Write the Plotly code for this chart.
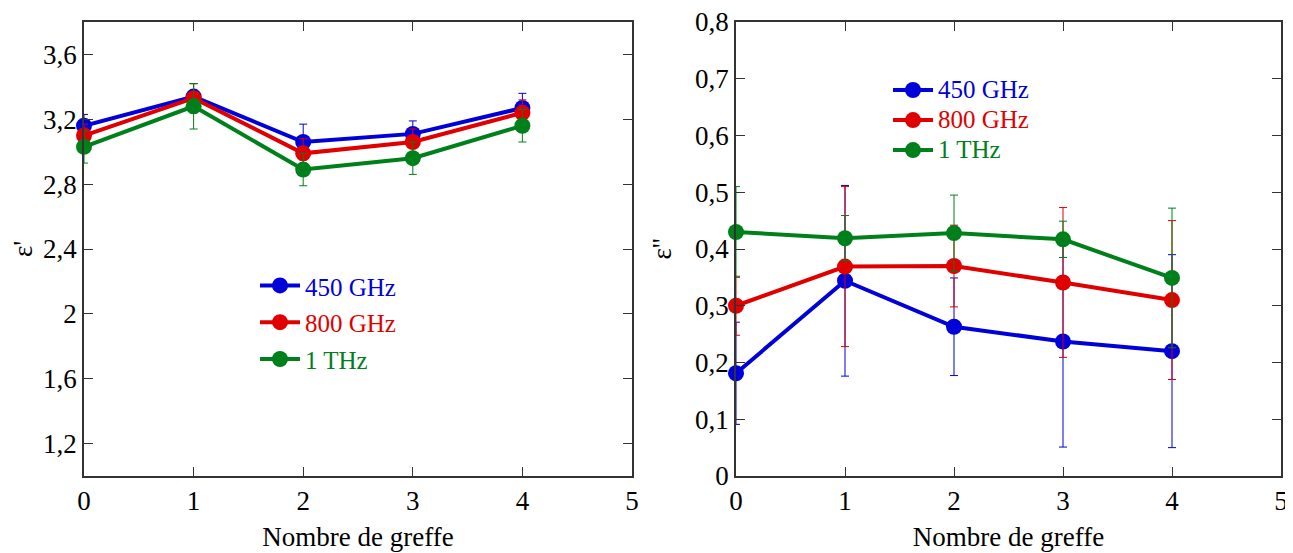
import plotly.graph_objects as go
from plotly.subplots import make_subplots

x = [0, 1, 2, 3, 4]
series_names = ["450 GHz", "800 GHz", "1 THz"]
colors = ["#0000d8", "#e00000", "#00801a"]

# epsilon' (left)
eps1_450 = [3.16, 3.34, 3.06, 3.11, 3.27]
eps1_800 = [3.10, 3.33, 2.99, 3.06, 3.24]
eps1_1t = [3.03, 3.28, 2.89, 2.96, 3.16]
err1_450 = [0.07, 0.08, 0.11, 0.08, 0.09]
err1_800 = [0.07, 0.09, 0.09, 0.08, 0.08]
err1_1t = [0.10, 0.14, 0.10, 0.10, 0.10]

# epsilon'' (right)
eps2_450 = [0.181, 0.344, 0.263, 0.237, 0.220]
eps2_800 = [0.300, 0.369, 0.370, 0.341, 0.310]
eps2_1t = [0.430, 0.419, 0.428, 0.417, 0.349]
err2_450 = [0.09, 0.168, 0.086, 0.186, 0.17]
err2_800 = [0.052, 0.141, 0.072, 0.132, 0.14]
err2_1t = [0.08, 0.04, 0.067, 0.032, 0.123]

font_family = "Liberation Serif"

# page body has an 8px margin: figure occupies 8..1293 x 8..553
W, H, OFF = 1285, 545, 8


def fx(px):
    return (px - OFF) / W


def fy(py):
    return 1 - (py - OFF) / H


def legend_name(i):
    return f"<span style='color:{colors[i]};font-size:25px'>{series_names[i]}</span>"


fig = make_subplots(rows=1, cols=2)

left = [(eps1_450, err1_450), (eps1_800, err1_800), (eps1_1t, err1_1t)]
right = [(eps2_450, err2_450), (eps2_800, err2_800), (eps2_1t, err2_1t)]

for i, (vals, errs) in enumerate(left):
    fig.add_trace(go.Scatter(
        x=x, y=vals, mode="lines+markers", name=legend_name(i),
        line=dict(color=colors[i], width=4),
        marker=dict(color=colors[i], size=16),
        error_y=dict(type="data", array=errs, visible=True, color=colors[i], thickness=1, width=4),
        cliponaxis=False, legend="legend",
    ), row=1, col=1)

for i, (vals, errs) in enumerate(right):
    fig.add_trace(go.Scatter(
        x=x, y=vals, mode="lines+markers", name=legend_name(i),
        line=dict(color=colors[i], width=4),
        marker=dict(color=colors[i], size=16),
        error_y=dict(type="data", array=errs, visible=True, color=colors[i], thickness=1, width=4),
        cliponaxis=False, legend="legend2",
    ), row=1, col=2)

axis_common = dict(
    showgrid=False, zeroline=False, showline=True, linecolor="#333", linewidth=1.5,
    mirror="ticks", ticks="inside", ticklen=9, tickcolor="#333", tickwidth=1,
    tickfont=dict(family=font_family, size=27, color="black"), automargin=False,
    ticklabeloverflow="allow",
)

fig.update_xaxes(**axis_common, range=[0, 5], tickvals=[0, 1, 2, 3, 4, 5],
                 title=dict(text="Nombre de greffe", font=dict(family=font_family, size=27, color="black"), standoff=12))
fig.update_xaxes(domain=[fx(84), fx(632)], row=1, col=1)
fig.update_xaxes(domain=[fx(736), fx(1281)], row=1, col=2)

ydom = [fy(476), fy(22)]
fig.update_yaxes(**axis_common, domain=ydom)
fig.update_yaxes(range=[1.0, 3.8], tickvals=[1.2, 1.6, 2.0, 2.4, 2.8, 3.2, 3.6],
                 title=dict(text="ε'", font=dict(family=font_family, size=27, color="black"), standoff=6),
                 row=1, col=1)
fig.update_yaxes(range=[0, 0.8], tickvals=[0, 0.1, 0.2, 0.3, 0.4, 0.5, 0.6, 0.7, 0.8],
                 title=dict(text="ε''", font=dict(family=font_family, size=27, color="black"), standoff=16),
                 row=1, col=2)

legend_common = dict(bgcolor="rgba(0,0,0,0)", tracegroupgap=0, itemwidth=40,
                     xanchor="left", yanchor="top")
fig.update_layout(
    width=W, height=H,
    margin=dict(l=0, r=0, t=0, b=0),
    paper_bgcolor="white", plot_bgcolor="white",
    separators=", ",
    font=dict(family=font_family, color="black"),
    legend=dict(**legend_common, font=dict(family=font_family, size=26), x=fx(255), y=fy(262)),
    legend2=dict(**legend_common, font=dict(family=font_family, size=20.8), x=fx(888), y=fy(70)),
    showlegend=True,
)

fig.write_html("out.html",
               post_script="document.documentElement.style.overflow='hidden';document.body.style.overflow='hidden';")
